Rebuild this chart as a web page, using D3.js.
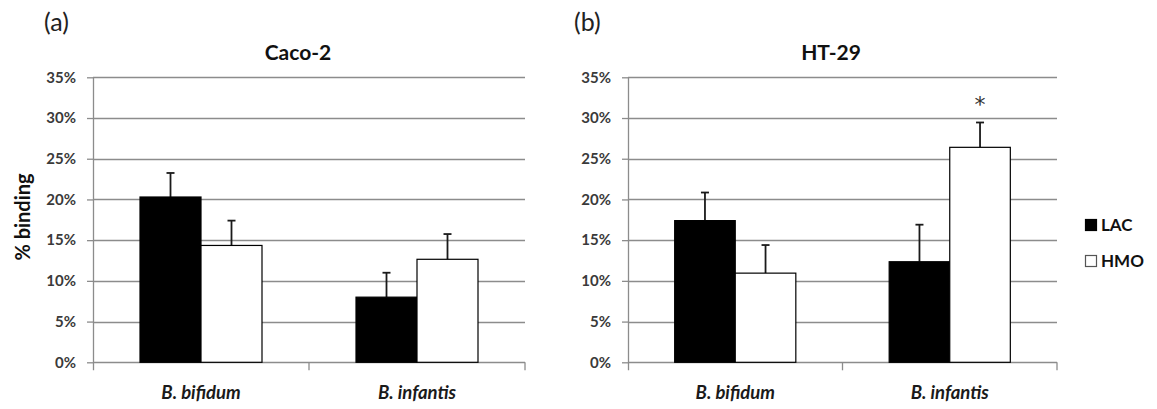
<!DOCTYPE html>
<html>
<head>
<meta charset="utf-8">
<script src="https://cdn.jsdelivr.net/npm/d3@7"></script>
<style>
  body { margin: 0; background: #fff; }
  svg text { font-family: Lato, "Open Sans", sans-serif; }
</style>
</head>
<body>
<svg id="chart" width="1157" height="409"></svg>
<script>
// values (% binding)
const categories = ["B. bifidum", "B. infantis"];
const series = ["LAC", "HMO"];
const panelTitles = ["Caco-2", "HT-29"];
const panelTags = ["(a)", "(b)"];

const cacoLAC = [20.3, 8.0];
const cacoHMO = [14.35, 12.65];
const cacoLACErr = [2.95, 3.0];
const cacoHMOErr = [3.05, 3.1];

const htLAC = [17.4, 12.35];
const htHMO = [10.95, 26.4];
const htLACErr = [3.45, 4.55];
const htHMOErr = [3.45, 3.05];

const yTicks = [0, 5, 10, 15, 20, 25, 30, 35];

const svg = d3.select("#chart");
const gridColor = "#8c8c8c";

const y = d3.scaleLinear().domain([0, 35]).range([362.3, 77.3]);

const panels = [
  { x0: 93, x1: 525, lac: cacoLAC, hmo: cacoHMO, lacErr: cacoLACErr, hmoErr: cacoHMOErr, stars: [null, null] },
  { x0: 628, x1: 1057, lac: htLAC, hmo: htHMO, lacErr: htLACErr, hmoErr: htHMOErr, stars: [null, "*"] }
];

panels.forEach((p, pi) => {
  const g = svg.append("g");

  const x0 = d3.scaleBand().domain(categories).range([p.x0, p.x1]).padding(0);
  const inset = x0.bandwidth() * 0.2176;
  const x1 = d3.scaleBand().domain(series).range([inset, x0.bandwidth() - inset]).padding(0);

  // gridlines
  g.selectAll("line.grid")
    .data(yTicks)
    .join("line")
    .attr("class", "grid")
    .attr("x1", p.x0).attr("x2", p.x1)
    .attr("y1", d => Math.round(y(d)) + 0.5).attr("y2", d => Math.round(y(d)) + 0.5)
    .attr("stroke", gridColor).attr("stroke-width", 1.3);

  // y axis
  const yAxis = d3.axisLeft(y).tickValues(yTicks).tickSize(6).tickPadding(11)
    .tickFormat(d => d + "%");
  const ya = g.append("g").attr("transform", `translate(${p.x0},0)`).call(yAxis);
  ya.select(".domain").remove();
  ya.selectAll(".tick line").attr("stroke", gridColor).attr("stroke-width", 1.3);
  ya.selectAll(".tick text")
    .attr("fill", "#3a3a3a")
    .style("font-size", "15px").style("font-weight", "bold");
  g.append("line")
    .attr("x1", p.x0 + 0.5).attr("x2", p.x0 + 0.5)
    .attr("y1", y(35)).attr("y2", y(0) + 8)
    .attr("stroke", gridColor).attr("stroke-width", 1.3);

  // category ticks
  const catEdges = categories.map(c => x0(c) + x0.bandwidth());
  g.selectAll("line.ctick")
    .data(catEdges)
    .join("line")
    .attr("x1", d => d).attr("x2", d => d)
    .attr("y1", y(0)).attr("y2", y(0) + 8)
    .attr("stroke", gridColor).attr("stroke-width", 1.3);

  // category labels
  g.selectAll("text.cat")
    .data(categories)
    .join("text")
    .attr("x", d => x0(d) + x0.bandwidth() / 2)
    .attr("y", 399)
    .attr("text-anchor", "middle")
    .style("font-size", "18.5px").style("font-weight", "bold").style("font-style", "italic")
    .attr("fill", "#1a1a1a")
    .text(d => d);

  // bars
  const rows = [];
  categories.forEach((c, i) => {
    rows.push({ cat: c, s: "LAC", v: p.lac[i], e: p.lacErr[i], star: null });
    rows.push({ cat: c, s: "HMO", v: p.hmo[i], e: p.hmoErr[i], star: p.stars[i] });
  });

  const bx = d => x0(d.cat) + x1(d.s);

  // error bars (upper only), drawn behind bars
  g.selectAll("line.err")
    .data(rows)
    .join("line")
    .attr("x1", d => bx(d) + x1.bandwidth() / 2).attr("x2", d => bx(d) + x1.bandwidth() / 2)
    .attr("y1", d => y(d.v)).attr("y2", d => y(d.v + d.e))
    .attr("stroke", "#1a1a1a").attr("stroke-width", 1.8);
  g.selectAll("line.cap")
    .data(rows)
    .join("line")
    .attr("x1", d => bx(d) + x1.bandwidth() / 2 - 4).attr("x2", d => bx(d) + x1.bandwidth() / 2 + 4)
    .attr("y1", d => y(d.v + d.e)).attr("y2", d => y(d.v + d.e))
    .attr("stroke", "#1a1a1a").attr("stroke-width", 1.8);

  g.selectAll("rect.bar")
    .data(rows)
    .join("rect")
    .attr("x", d => bx(d))
    .attr("y", d => y(d.v))
    .attr("width", x1.bandwidth())
    .attr("height", d => y(0) - y(d.v))
    .attr("fill", d => d.s === "LAC" ? "#000" : "#fff")
    .attr("stroke", "#000").attr("stroke-width", 1.2);

  g.selectAll("text.star")
    .data(rows.filter(d => d.star))
    .join("text")
    .attr("x", d => bx(d) + x1.bandwidth() / 2)
    .attr("y", 112)
    .attr("text-anchor", "middle")
    .style("font-family", "'DejaVu Sans', sans-serif")
    .style("font-size", "22px")
    .attr("fill", "#333")
    .text(d => d.star);

  // titles
  g.append("text")
    .attr("x", pi === 0 ? 298 : 831).attr("y", 59.5)
    .attr("text-anchor", "middle")
    .style("font-size", "21px").style("font-weight", "bold")
    .attr("fill", "#111")
    .text(panelTitles[pi]);
  g.append("text")
    .attr("x", pi === 0 ? 44 : 574).attr("y", 31)
    .style("font-size", "25px")
    .attr("fill", "#222")
    .text(panelTags[pi]);
});

// y label
svg.append("text")
  .attr("transform", "translate(30,217) rotate(-90)")
  .attr("text-anchor", "middle")
  .style("font-size", "20px").style("font-weight", "bold")
  .attr("fill", "#111")
  .text("% binding");

// legend
const legend = svg.append("g").attr("transform", "translate(1085,219)");
legend.selectAll("rect")
  .data(series)
  .join("rect")
  .attr("x", 0.5).attr("y", (d, i) => i * 36 + 0.5)
  .attr("width", 11).attr("height", 11)
  .attr("fill", d => d === "LAC" ? "#000" : "#fff")
  .attr("stroke", d => d === "LAC" ? "#000" : "#555").attr("stroke-width", 1.2);
legend.selectAll("text")
  .data(series)
  .join("text")
  .attr("x", 16).attr("y", (d, i) => i * 36 + 11.5)
  .style("font-size", "17px").style("font-weight", "bold")
  .attr("fill", "#111")
  .text(d => d);
</script>
</body>
</html>
